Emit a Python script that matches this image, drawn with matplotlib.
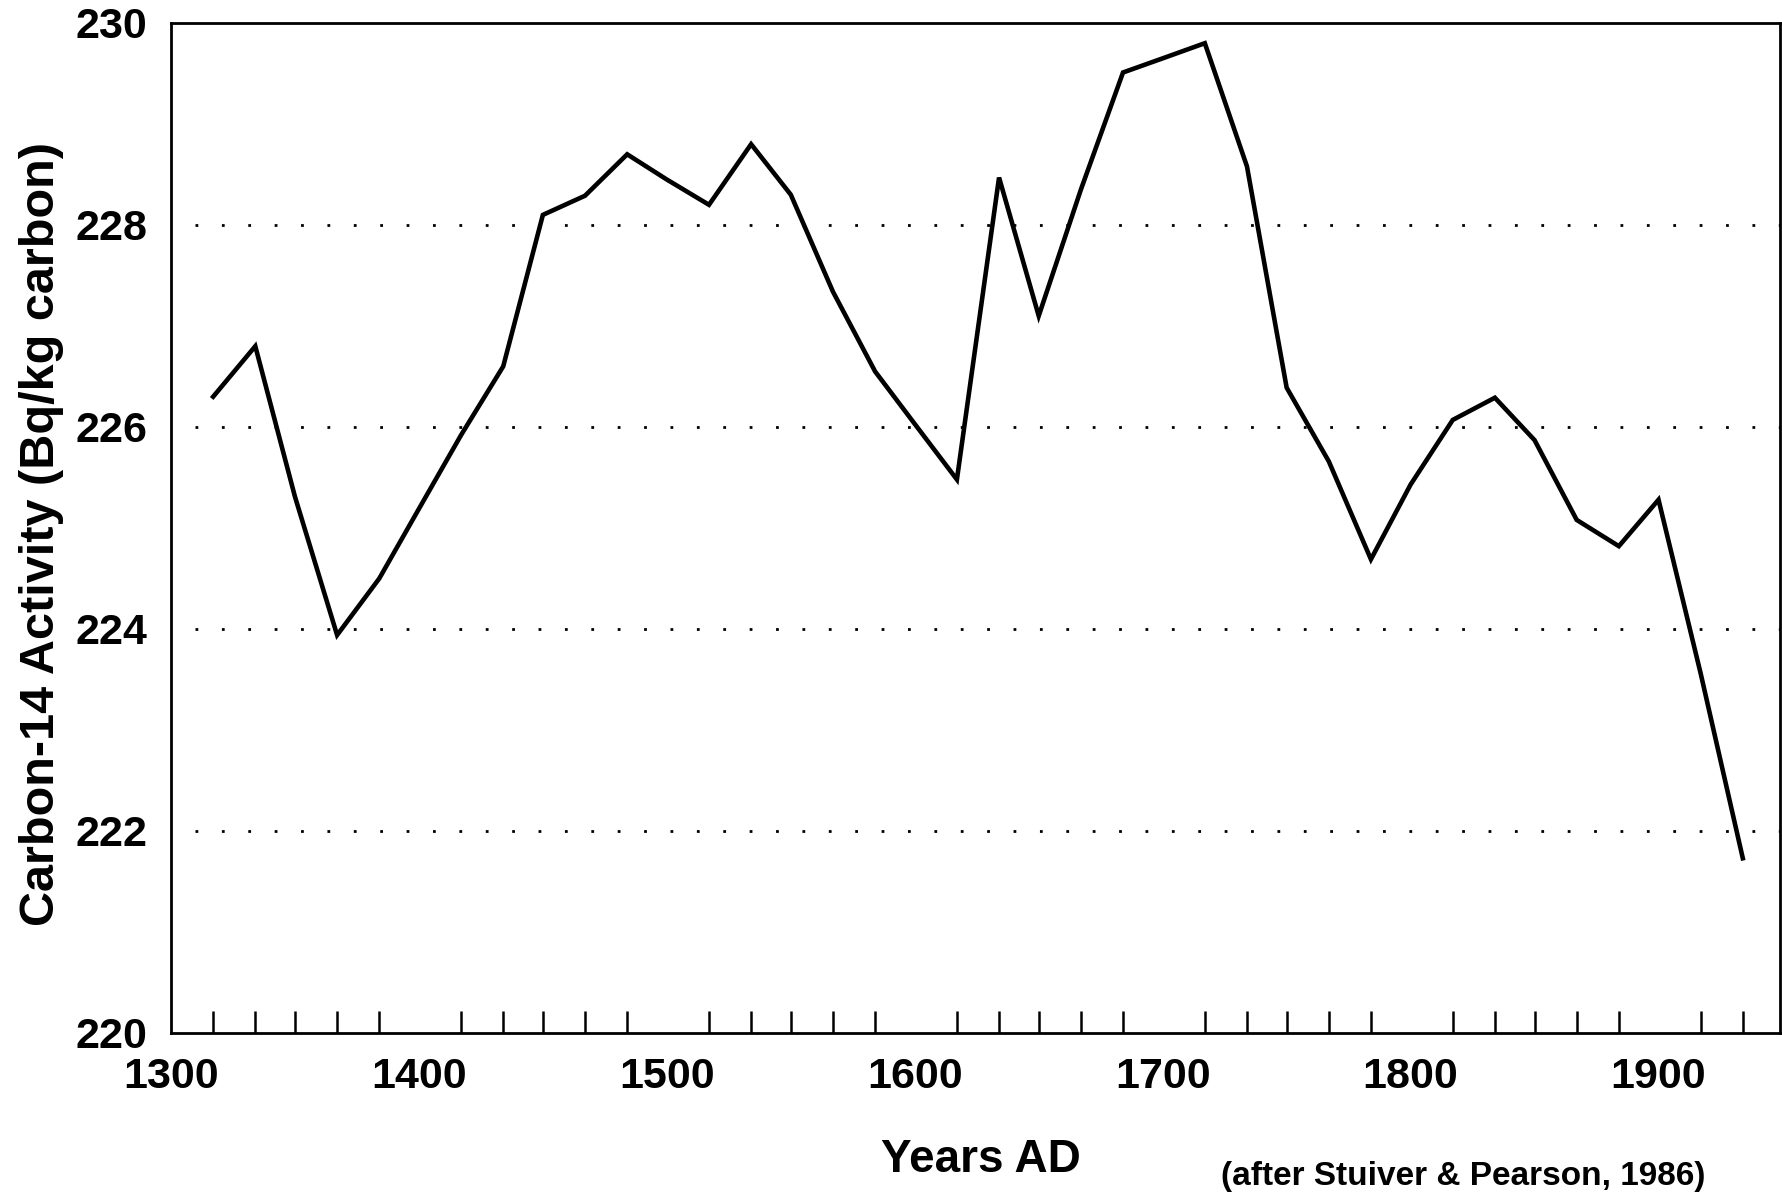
import matplotlib
matplotlib.use("Agg")
import matplotlib.pyplot as plt
from matplotlib.ticker import FixedLocator

# ---- data ----
years = [1317, 1334, 1350, 1367, 1384, 1400, 1417, 1434, 1450, 1467,
         1484, 1500, 1517, 1534, 1550, 1567, 1584, 1600, 1617, 1634,
         1650, 1667, 1684, 1700, 1717, 1734, 1750, 1767, 1784, 1800,
         1817, 1834, 1850, 1867, 1884, 1900, 1917, 1934]
activity = [226.30, 226.80, 225.31, 223.94, 224.50, 225.19, 225.92, 226.60, 228.10, 228.29,
            228.70, 228.45, 228.20, 228.80, 228.30, 227.34, 226.55, 226.03, 225.48, 228.47,
            227.10, 228.35, 229.51, 229.65, 229.80, 228.58, 226.39, 225.66, 224.69, 225.43,
            226.07, 226.29, 225.87, 225.08, 224.82, 225.28, 223.56, 221.73]
x_major = [1300, 1400, 1500, 1600, 1700, 1800, 1900]
x_major_labels = ["1300", "1400", "1500", "1600", "1700", "1800", "1900"]
y_ticks = [220, 222, 224, 226, 228, 230]
y_tick_labels = ["220", "222", "224", "226", "228", "230"]
grid_levels = [222, 224, 226, 228]

plt.rcParams['font.family'] = ['Liberation Sans', 'DejaVu Sans']
plt.rcParams['font.weight'] = 'bold'

W, H = 1783, 1194
fig = plt.figure(figsize=(W / 100, H / 100), dpi=100)
fig.patch.set_facecolor('white')
ax = fig.add_axes([171 / W, 1 - 1033 / H, (1780 - 171) / W, (1033 - 23) / H])

ax.set_xlim(1300, 1949)
ax.set_ylim(220, 230)

# dotted grid lines
for g in grid_levels:
    ax.axhline(g, xmin=0.015, xmax=1.0, color='black', lw=2.0,
               linestyle=(0, (1, 8.5)), zorder=1)

ax.plot(years, activity, color='black', lw=3.3, solid_joinstyle='miter', zorder=3)

for s in ax.spines.values():
    s.set_linewidth(2.0)
    s.set_color('black')

ax.xaxis.set_major_locator(FixedLocator(x_major))
ax.set_xticklabels(x_major_labels)
ax.xaxis.set_minor_locator(FixedLocator(years))
ax.tick_params(axis='x', which='major', length=0, pad=17, labelsize=31)
ax.tick_params(axis='x', which='minor', direction='in', length=15.5, width=1.8, color='black')
for lab in ax.get_xticklabels():
    lab.set_fontweight('bold')

ax.set_yticks(y_ticks)
ax.set_yticklabels(y_tick_labels)
ax.tick_params(axis='y', which='major', length=0, pad=17, labelsize=31)
for lab in ax.get_yticklabels():
    lab.set_fontweight('bold')

fig.text(42 / W, 1 - 534 / H, "Carbon-14 Activity (Bq/kg carbon)", rotation=90,
         ha='center', va='center', fontsize=35, fontweight='bold')
fig.text(981 / W, 1 - 1160 / H, "Years AD", ha='center', va='center',
         fontsize=33, fontweight='bold')
fig.text(1463 / W, 1 - 1176 / H, "(after Stuiver & Pearson, 1986)", ha='center', va='center',
         fontsize=24, fontweight='bold')

fig.savefig("out.png", dpi=100, facecolor='white')
